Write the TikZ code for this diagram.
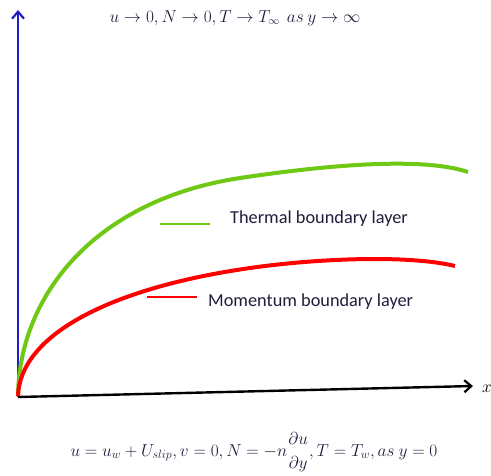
\documentclass[tikz,border=0pt]{standalone}
\usepackage{amsmath}
\usepackage{fontspec}
\setmainfont{Carlito}
\usetikzlibrary{arrows.meta}
\definecolor{cgreen}{RGB}{110,200,20}
\definecolor{cblue}{RGB}{30,30,200}
\definecolor{ctext}{RGB}{30,30,60}
\begin{document}
\begin{tikzpicture}[x=1pt,y=-1pt,
  curve/.style={line width=4pt},
  legline/.style={line width=1.2pt},
  legtext/.style={anchor=west,font=\fontsize{18.3}{22}\selectfont,text=ctext,inner sep=0pt},
  axis/.style={line width=2.4pt,-{Straight Barb[length=7pt,width=12pt,line width=2.2pt]}}]
\useasboundingbox (0,0) rectangle (491,475);
\coordinate (o) at (18,397);
\coordinate (ytop) at (18,10);
\coordinate (xend) at (473,386);
\draw[axis,cblue] (o) -- (ytop);
\draw[axis,black] (o) -- (xend);
\node[anchor=west,inner sep=0pt,font=\fontsize{16}{18}\selectfont] (xl) at (482,389) {$x$};
% green curve
\draw[curve,cgreen] (18,394) .. controls (20,295) and (95,200) .. (240,178)
  .. controls (320,166) and (420,156) .. (468,172);
% red curve
\draw[curve,red] (18,396) .. controls (20,335) and (110,288) .. (250,268)
  .. controls (320,258) and (410,255) .. (455,266);
% legend
\coordinate (g1) at (160,224); \coordinate (g2) at (210,224);
\draw[legline,cgreen] (g1) -- (g2);
\node[legtext] (gt) at (230,219) {Thermal boundary layer};
\coordinate (r1) at (147,297); \coordinate (r2) at (197,297);
\draw[legline,red] (r1) -- (r2);
\node[legtext] (rt) at (208,302) {Momentum boundary layer};
% conditions
\node[font=\fontsize{15.9}{19}\selectfont,text=ctext] (top) at (235,18) {$u \rightarrow 0, N \rightarrow 0, T \rightarrow T_{\infty}\ \ as\ y \rightarrow \infty$};
\node[font=\fontsize{17.6}{21}\selectfont,text=ctext] (bot) at (254,452) {$u = u_w + U_{slip}, v = 0, N = -n \genfrac{}{}{0pt}{0}{\partial u}{\partial y}, T = T_w, as\ y = 0$};
\end{tikzpicture}
\end{document}
